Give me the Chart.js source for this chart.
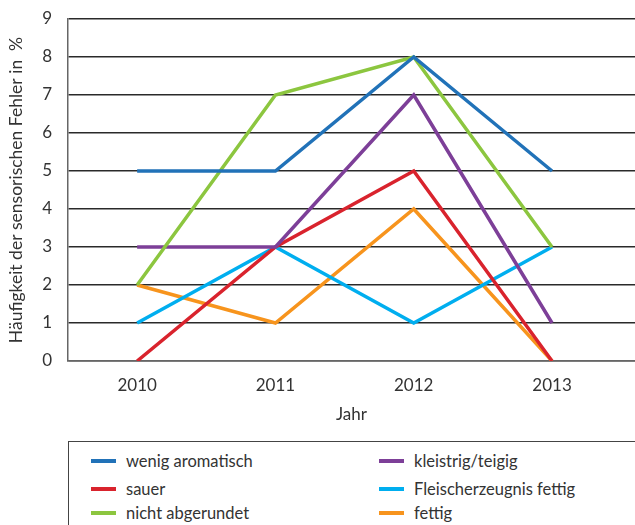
<!DOCTYPE html>
<html lang="de">
<head>
<meta charset="utf-8">
<title>Häufigkeit der sensorischen Fehler</title>
<script src="https://cdn.jsdelivr.net/npm/chart.js@4/dist/chart.umd.min.js"></script>
<style>
  html, body { margin: 0; padding: 0; background: #fff; overflow: hidden; }
  body { width: 635px; height: 525px; position: relative; font-family: Lato, "Open Sans", sans-serif; }
  #wrap { position: absolute; left: 0; top: 0; width: 635px; height: 425px; }
  #legend {
    position: absolute; left: 68px; top: 441px; width: 600px; height: 120px;
    border: 1.5px solid #444; box-sizing: border-box;
  }
  .item { position: absolute; display: flex; align-items: center; font-size: 16.5px; color: #333; white-space: nowrap; }
  .item i { display: inline-block; width: 25px; height: 3.5px; margin-right: 10px; }
</style>
</head>
<body>
<div id="wrap"><canvas id="c" width="635" height="425"></canvas></div>
<div id="legend"></div>
<script>
// Years on the x axis and defect frequencies (%) per category
const years = [2010, 2011, 2012, 2013];
const yTicks = [0, 1, 2, 3, 4, 5, 6, 7, 8, 9];

const wenigAromatisch   = [5, 5, 8, 5];
const sauer             = [0, 3, 5, 0];
const nichtAbgerundet   = [2, 7, 8, 3];
const kleistrigTeigig   = [3, 3, 7, 1];
const fleischFettig     = [1, 3, 1, 3];
const fettig            = [2, 1, 4, 0];

const series = [
  { label: 'wenig aromatisch',        data: wenigAromatisch, color: '#2172b8', col: 0, row: 0 },
  { label: 'sauer',                   data: sauer,           color: '#d9232d', col: 0, row: 1 },
  { label: 'nicht abgerundet',        data: nichtAbgerundet, color: '#8cc63f', col: 0, row: 2 },
  { label: 'kleistrig/teigig',        data: kleistrigTeigig, color: '#7d3f98', col: 1, row: 0 },
  { label: 'Fleischerzeugnis fettig', data: fleischFettig,   color: '#00aeef', col: 1, row: 1 },
  { label: 'fettig',                  data: fettig,          color: '#f7941d', col: 1, row: 2 }
];
// draw order: later datasets on top
const drawOrder = ['fettig', 'Fleischerzeugnis fettig', 'sauer', 'kleistrig/teigig', 'nicht abgerundet', 'wenig aromatisch'];

const FONT = 'Lato, "Open Sans", sans-serif';

const datasets = series.map(s => ({
  label: s.label,
  data: s.data.map((v, i) => ({ x: years[i], y: v })),
  borderColor: s.color,
  backgroundColor: s.color,
  borderWidth: 3.5,
  pointRadius: 0,
  tension: 0,
  fill: false,
  order: drawOrder.length - drawOrder.indexOf(s.label)
}));

new Chart(document.getElementById('c'), {
  type: 'line',
  data: { datasets },
  options: {
    responsive: false,
    animation: false,
    layout: { padding: { top: 19, left: 0, right: 0, bottom: 0 } },
    plugins: { legend: { display: false }, tooltip: { enabled: false } },
    scales: {
      x: {
        type: 'linear',
        min: 2009.5,
        max: 2013.6,
        afterBuildTicks: scale => { scale.ticks = years.map(v => ({ value: v })); },
        afterFit: scale => { scale.height = 64; scale.paddingLeft = 0; scale.paddingRight = 0; },
        grid: { display: false, drawTicks: false },
        border: { display: true, color: '#666', width: 1.5 },
        ticks: {
          padding: 14,
          color: '#333',
          font: { family: FONT, size: 17 },
          callback: v => String(v)
        },
        title: {
          display: true,
          text: 'Jahr',
          color: '#333',
          font: { family: FONT, size: 17 },
          padding: { top: 4, bottom: 0 }
        }
      },
      y: {
        min: 0,
        max: 9,
        afterBuildTicks: scale => { scale.ticks = yTicks.map(v => ({ value: v })); },
        afterFit: scale => { scale.width = 68; scale.paddingTop = 0; scale.paddingBottom = 0; },
        grid: {
          color: '#2a2a2a',
          lineWidth: 1.5,
          drawTicks: false
        },
        border: { display: true, color: '#666', width: 1.5 },
        ticks: {
          padding: 16,
          color: '#333',
          font: { family: FONT, size: 17 }
        },
        title: {
          display: true,
          text: 'Häufigkeit der sensorischen Fehler in  %',
          color: '#333',
          font: { family: FONT, size: 17.5 },
          padding: { top: 6, bottom: 0 }
        }
      }
    }
  }
});

// legend box below the plot, two columns
const legend = document.getElementById('legend');
const colX = [22, 310];
const rowY = [9, 37, 61];
series.forEach(s => {
  const el = document.createElement('div');
  el.className = 'item';
  el.style.left = colX[s.col] + 'px';
  el.style.top = rowY[s.row] + 'px';
  const sw = document.createElement('i');
  sw.style.background = s.color;
  el.appendChild(sw);
  el.appendChild(document.createTextNode(s.label));
  legend.appendChild(el);
});
</script>
</body>
</html>
